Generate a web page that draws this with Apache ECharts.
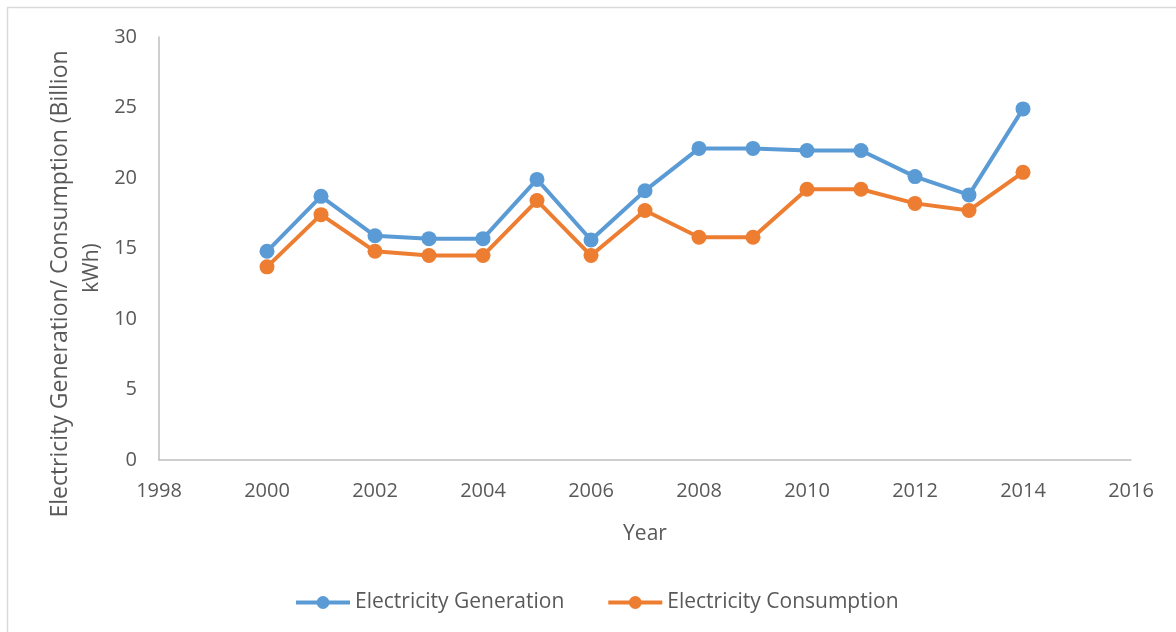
<!DOCTYPE html>
<html>
<head>
<meta charset="utf-8">
<script src="https://cdn.jsdelivr.net/npm/echarts@6/dist/echarts.min.js"></script>
<style>
html,body{margin:0;padding:0;background:#fff;}
#chart{width:1176px;height:632px;}
</style>
</head>
<body>
<div id="chart"></div>
<script>
var years = [2000,2001,2002,2003,2004,2005,2006,2007,2008,2009,2010,2011,2012,2013,2014];
var generation = [14.8,18.7,15.9,15.7,15.7,19.9,15.6,19.1,22.1,22.1,21.95,21.95,20.1,18.8,24.9];
var consumption = [13.7,17.4,14.8,14.5,14.5,18.4,14.5,17.7,15.8,15.8,19.2,19.2,18.2,17.7,20.4];
var seriesNames = ['Electricity Generation','Electricity Consumption'];
var xAxisName = 'Year';
var yAxisNameLine1 = 'Electricity Generation/ Consumption (Billion';
var yAxisNameLine2 = 'kWh)';

function pairs(vals){ return years.map(function(y,i){ return [y, vals[i]]; }); }

var FONT = '"Open Sans", sans-serif';
var TXT = '#595959';
var chart = echarts.init(document.getElementById('chart'), null, {renderer:'canvas'});
chart.setOption({
  animation:false,
  backgroundColor:'#fff',
  grid:{left:159,right:45,top:37,bottom:172,containLabel:false},
  xAxis:{
    type:'value',min:1998,max:2016,interval:2,
    axisLine:{show:true,onZero:false,lineStyle:{color:'#bfbfbf',width:1.5}},
    axisTick:{show:false},
    splitLine:{show:false},
    axisLabel:{color:TXT,fontSize:20,fontFamily:FONT,margin:21,formatter:function(v){return String(v);}},
    name:xAxisName,nameLocation:'middle',nameGap:64,
    nameTextStyle:{color:TXT,fontSize:21,fontFamily:FONT}
  },
  yAxis:{
    type:'value',min:0,max:30,interval:5,
    axisLine:{show:true,lineStyle:{color:'#bfbfbf',width:1.5}},
    axisTick:{show:false},
    splitLine:{show:false},
    axisLabel:{color:TXT,fontSize:20,fontFamily:FONT,margin:22}
  },
  legend:{
    left:289,top:587,
    itemWidth:54,itemHeight:16,itemGap:42,
    lineStyle:{width:4},
    textStyle:{color:TXT,fontSize:21,fontFamily:FONT},
    data:seriesNames
  },
  graphic:[
    {type:'rect',shape:{x:7.5,y:7.5,width:1300,height:800},style:{fill:'none',stroke:'#d9d9d9',lineWidth:1.5},silent:true},
    {type:'text',x:60,y:284,rotation:Math.PI/2,style:{text:yAxisNameLine1,fill:TXT,font:'23px "Open Sans", sans-serif',textAlign:'center',textVerticalAlign:'middle'}},
    {type:'text',x:92,y:268,rotation:Math.PI/2,style:{text:yAxisNameLine2,fill:TXT,font:'21px "Open Sans", sans-serif',textAlign:'center',textVerticalAlign:'middle'}}
  ],
  series:[
    {name:seriesNames[0],type:'line',data:pairs(generation),symbol:'circle',symbolSize:15,
     itemStyle:{color:'#5B9BD5'},lineStyle:{color:'#5B9BD5',width:4}},
    {name:seriesNames[1],type:'line',data:pairs(consumption),symbol:'circle',symbolSize:15,
     itemStyle:{color:'#ED7D31'},lineStyle:{color:'#ED7D31',width:4}}
  ]
});
</script>
</body>
</html>
